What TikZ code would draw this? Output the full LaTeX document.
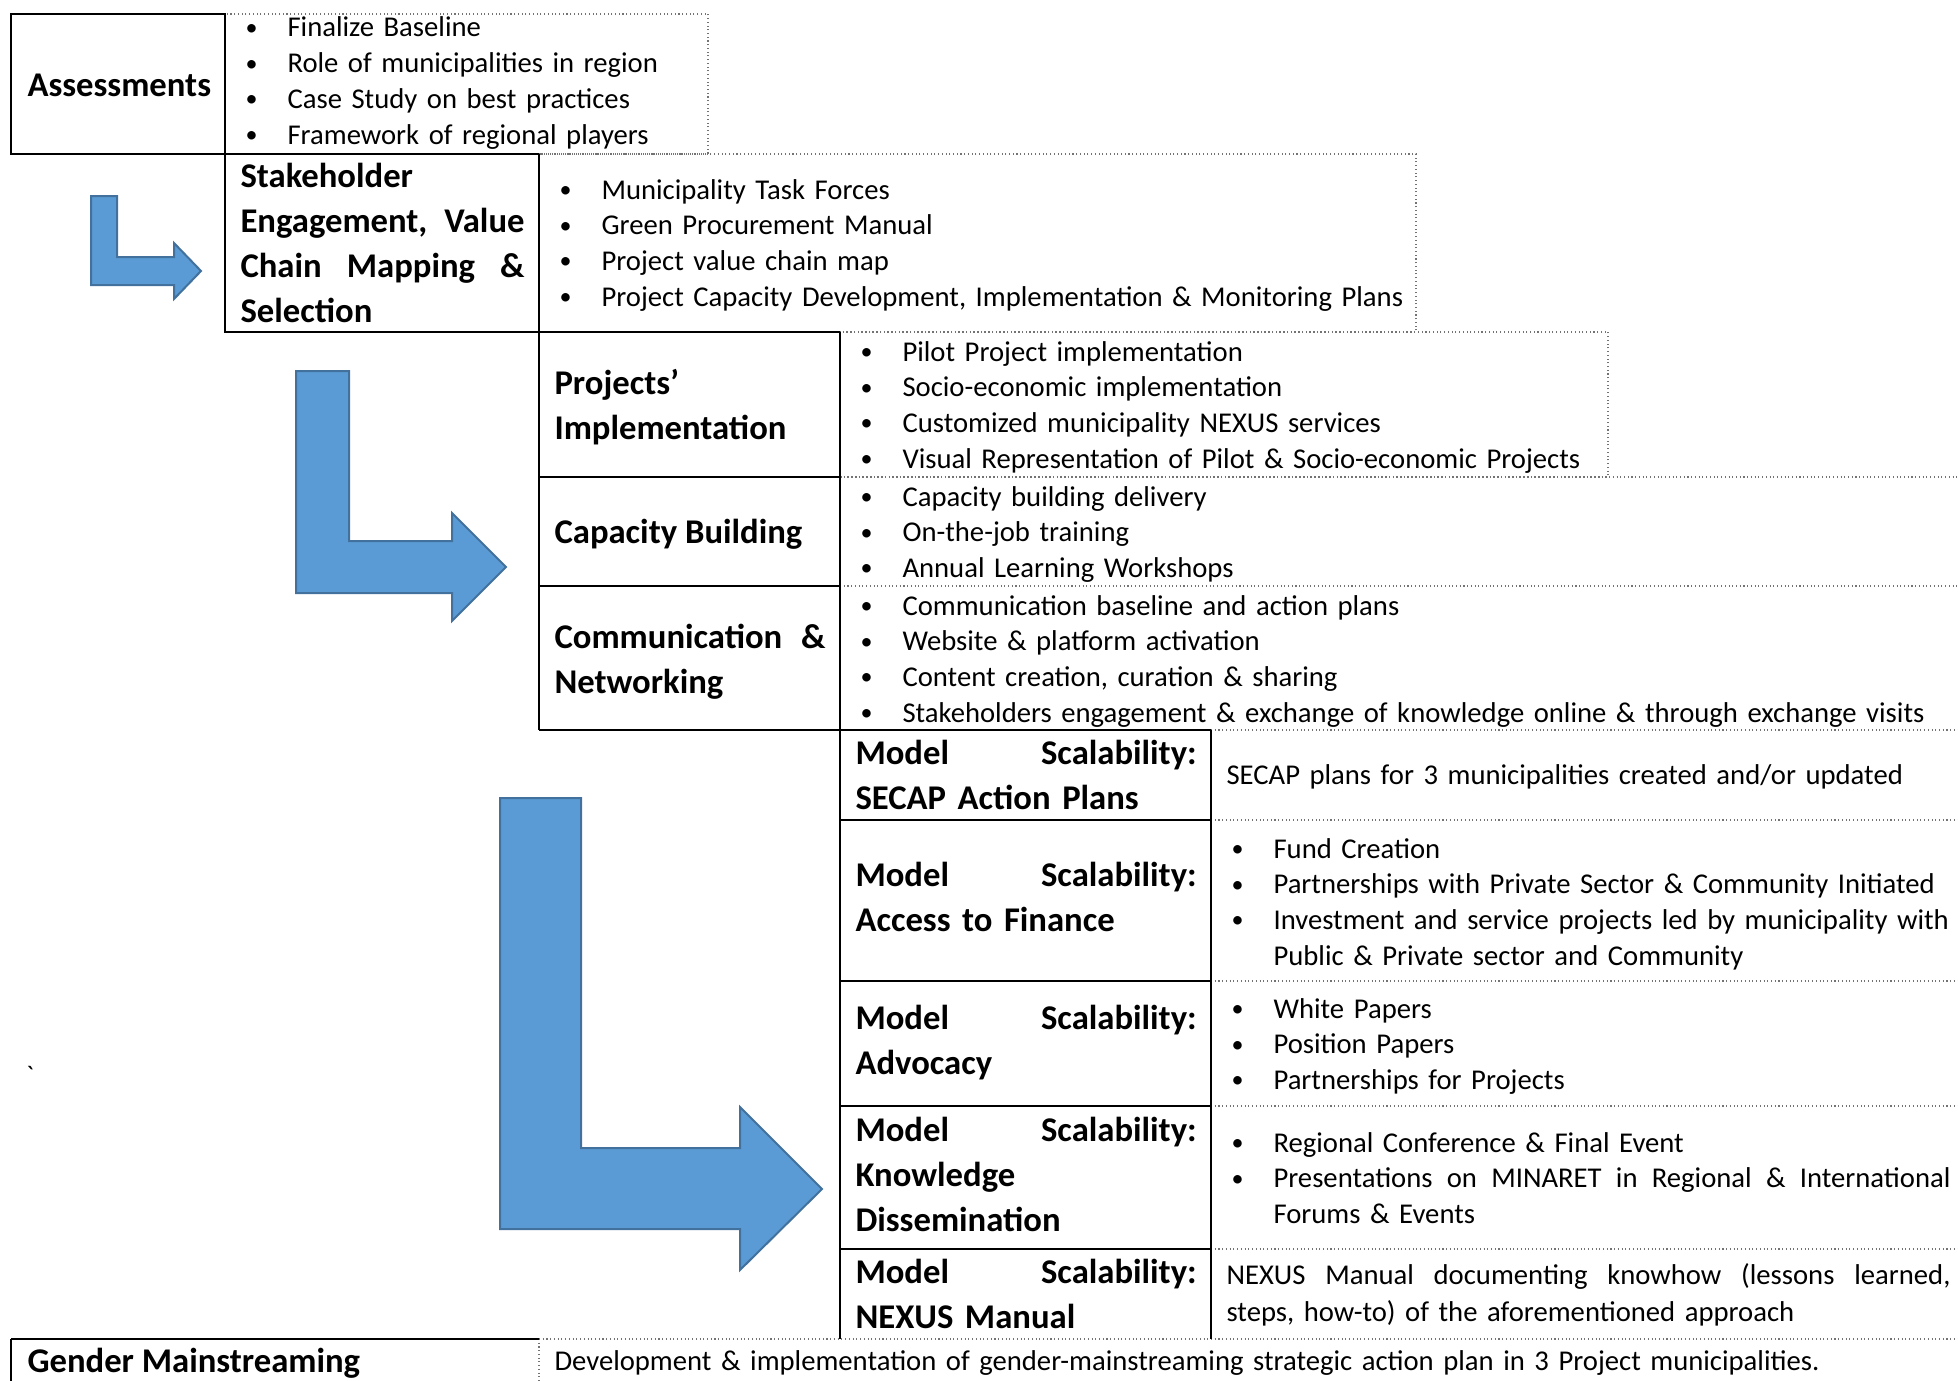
\documentclass[tikz,border=0pt]{standalone}
\usepackage{fontspec}
\setmainfont{Carlito}

\definecolor{arrowblue}{RGB}{91,155,213}
\definecolor{arrowedge}{RGB}{65,113,156}

% a bullet line; later lines hang under the text
\newcommand{\bul}[1]{\hangindent=15.75pt\hangafter=1\noindent\makebox[15.75pt][l]{\raisebox{0.6pt}{\fontsize{9pt}{9pt}\selectfont\textbullet}}#1\par}
% a line stretched over the whole width
\newcommand{\spreadline}[1]{\makebox[\linewidth][s]{#1}}
\newcommand{\bulwide}[1]{\makebox[\dimexpr\linewidth-15.75pt\relax][s]{#1}}

\begin{document}
\begin{tikzpicture}[x=0.375pt,y=-0.375pt,
		head/.style={anchor=base west,inner sep=0pt,align=left,font=\fontsize{13pt}{16.9pt}\selectfont\bfseries},
		items/.style={anchor=base west,inner sep=0pt,align=left,font=\fontsize{10.75pt}{13.4pt}\selectfont},
		rule/.style={draw=black,line width=0.6pt},
		thickrule/.style={draw=black,line width=1.1pt},
		dotrule/.style={draw=black!55,densely dotted,line width=0.4pt},
		bentarrow/.style={fill=arrowblue,draw=arrowedge,line width=0.75pt,line join=miter}]
	\useasboundingbox (0,0) rectangle (1958,1381);

	% dotted outlines of the outputs
	\draw[dotrule] (225,14) rectangle (708,154);
	\draw[dotrule] (539,154) rectangle (1416,332);
	\draw[dotrule] (840,332) rectangle (1608,477);
	\foreach \y in {477,586}
		\draw[dotrule] (840,\y) -- (1958,\y);
	\foreach \y in {730,820,981,1106,1249}
		\draw[dotrule] (1211,\y) -- (1958,\y);
	\draw[dotrule] (539,1339) -- (1958,1339);
	\draw[dotrule] (539,1339) -- (539,1381);

	% solid outlines of the steps
	\draw[rule] (11,14) rectangle (225,154);
	\draw[thickrule] (11,154) -- (539,154);
	\draw[rule] (225,154) -- (225,332) -- (840,332);
	\draw[rule] (539,154) -- (539,730);
	\draw[rule] (539,477) -- (840,477);
	\draw[rule] (539,586) -- (840,586);
	\draw[rule] (840,332) -- (840,1339);
	\draw[thickrule] (539,730) -- (1211,730);
	\draw[rule] (1211,730) -- (1211,1339);
	\foreach \y in {820,981,1106,1249}
		\draw[thickrule] (840,\y) -- (1211,\y);
	\draw[thickrule] (11,1339) -- (539,1339);
	\draw[rule] (11,1339) -- (11,1381);

	% steps
	\node[head] (assess) at (27,96) {Assessments};
	\node[head,text width=106.5pt] (stake) at (240,187) {Stakeholder\\\spreadline{Engagement,\hfill Value}\\\spreadline{Chain\hfill Mapping\hfill \&}\\Selection};
	\node[head,text width=101.6pt] (proj) at (554,394) {Projects’\\Implementation};
	\node[head] (capa) at (554,543) {Capacity Building};
	\node[head,text width=101.6pt] (comm) at (554,648) {\spreadline{Communication\hfill \&}\\Networking};
	\foreach \nm/\y/\lbl in {secap/764/SECAP Action Plans,finance/886/Access to Finance,advocacy/1029/Advocacy,nexus/1283/NEXUS Manual}
		\node[head,text width=127.9pt] (\nm) at (855,\y) {\spreadline{Model\hfill Scalability:}\\\lbl};
	\node[head,text width=127.9pt] (knowledge) at (855,1141) {\spreadline{Model\hfill Scalability:}\\Knowledge\\Dissemination};
	\node[head] (gender) at (27,1372) {Gender Mainstreaming};

	% outputs
	\node[items,text width=165pt] (assesslist) at (245,37) {\bul{Finalize Baseline}\bul{Role of municipalities in region}\bul{Case Study on best practices}\bul{Framework of regional players}};
	\node[items,text width=375pt] (stakelist) at (559,199) {\bul{Municipality Task Forces}\bul{Green Procurement Manual}\bul{Project value chain map}\bul{Project Capacity Development, Implementation \& Monitoring Plans}};
	\node[items,text width=375pt] (projlist) at (860,361) {\bul{Pilot Project implementation}\bul{Socio-economic implementation}\bul{Customized municipality NEXUS services}\bul{Visual Representation of Pilot \& Socio-economic Projects}};
	\node[items,text width=375pt] (capalist) at (860,506) {\bul{Capacity building delivery}\bul{On-the-job training}\bul{Annual Learning Workshops}};
	\node[items,text width=410pt] (commlist) at (860,615) {\bul{Communication baseline and action plans}\bul{Website \& platform activation}\bul{Content creation, curation \& sharing}\bul{Stakeholders engagement \& exchange of knowledge online \& through exchange visits}};
	\node[items,text width=271.5pt] (secaplist) at (1226,784) {SECAP plans for 3 municipalities created and/or updated};
	\node[items,text width=285pt] (financelist) at (1231,858) {\bul{Fund Creation}\bul{Partnerships with Private Sector \& Community Initiated}\bul{Investment and service projects led by municipality with\hfil\break Public \& Private sector and Community}};
	\node[items,text width=269.6pt] (advocacylist) at (1231,1018) {\bul{White Papers}\bul{Position Papers}\bul{Partnerships for Projects}};
	\node[items,text width=269.6pt] (knowledgelist) at (1231,1152) {\bul{Regional Conference \& Final Event}\bul{\bulwide{Presentations\hfill on\hfill MINARET\hfill in\hfill Regional\hfill \&\hfill International}\hfil\break Forums \& Events}};
	\node[items,text width=271.5pt] (nexuslist) at (1226,1284) {\spreadline{NEXUS\hfill Manual\hfill documenting\hfill knowhow\hfill (lessons\hfill learned,}\\[0.6pt]steps, how-to) of the aforementioned approach};
	\node[items,text width=520pt] (genderlist) at (554,1370) {Development \& implementation of gender-mainstreaming strategic action plan in 3 Project municipalities.};
	\node (tick) at (30,1075) {\textasciigrave};

	% bent arrows
	\draw[bentarrow] (91,196) -- (117,196) -- (117,257) -- (174,257) -- (174,243) -- (201,271) -- (174,299) -- (174,285) -- (91,285) -- cycle;
	\draw[bentarrow] (296,371) -- (349,371) -- (349,541) -- (452,541) -- (452,513) -- (506,567) -- (452,621) -- (452,593) -- (296,593) -- cycle;
	\draw[bentarrow] (500,798) -- (581,798) -- (581,1148) -- (740,1148) -- (740,1107) -- (822,1189) -- (740,1270) -- (740,1229) -- (500,1229) -- cycle;
\end{tikzpicture}
\end{document}
